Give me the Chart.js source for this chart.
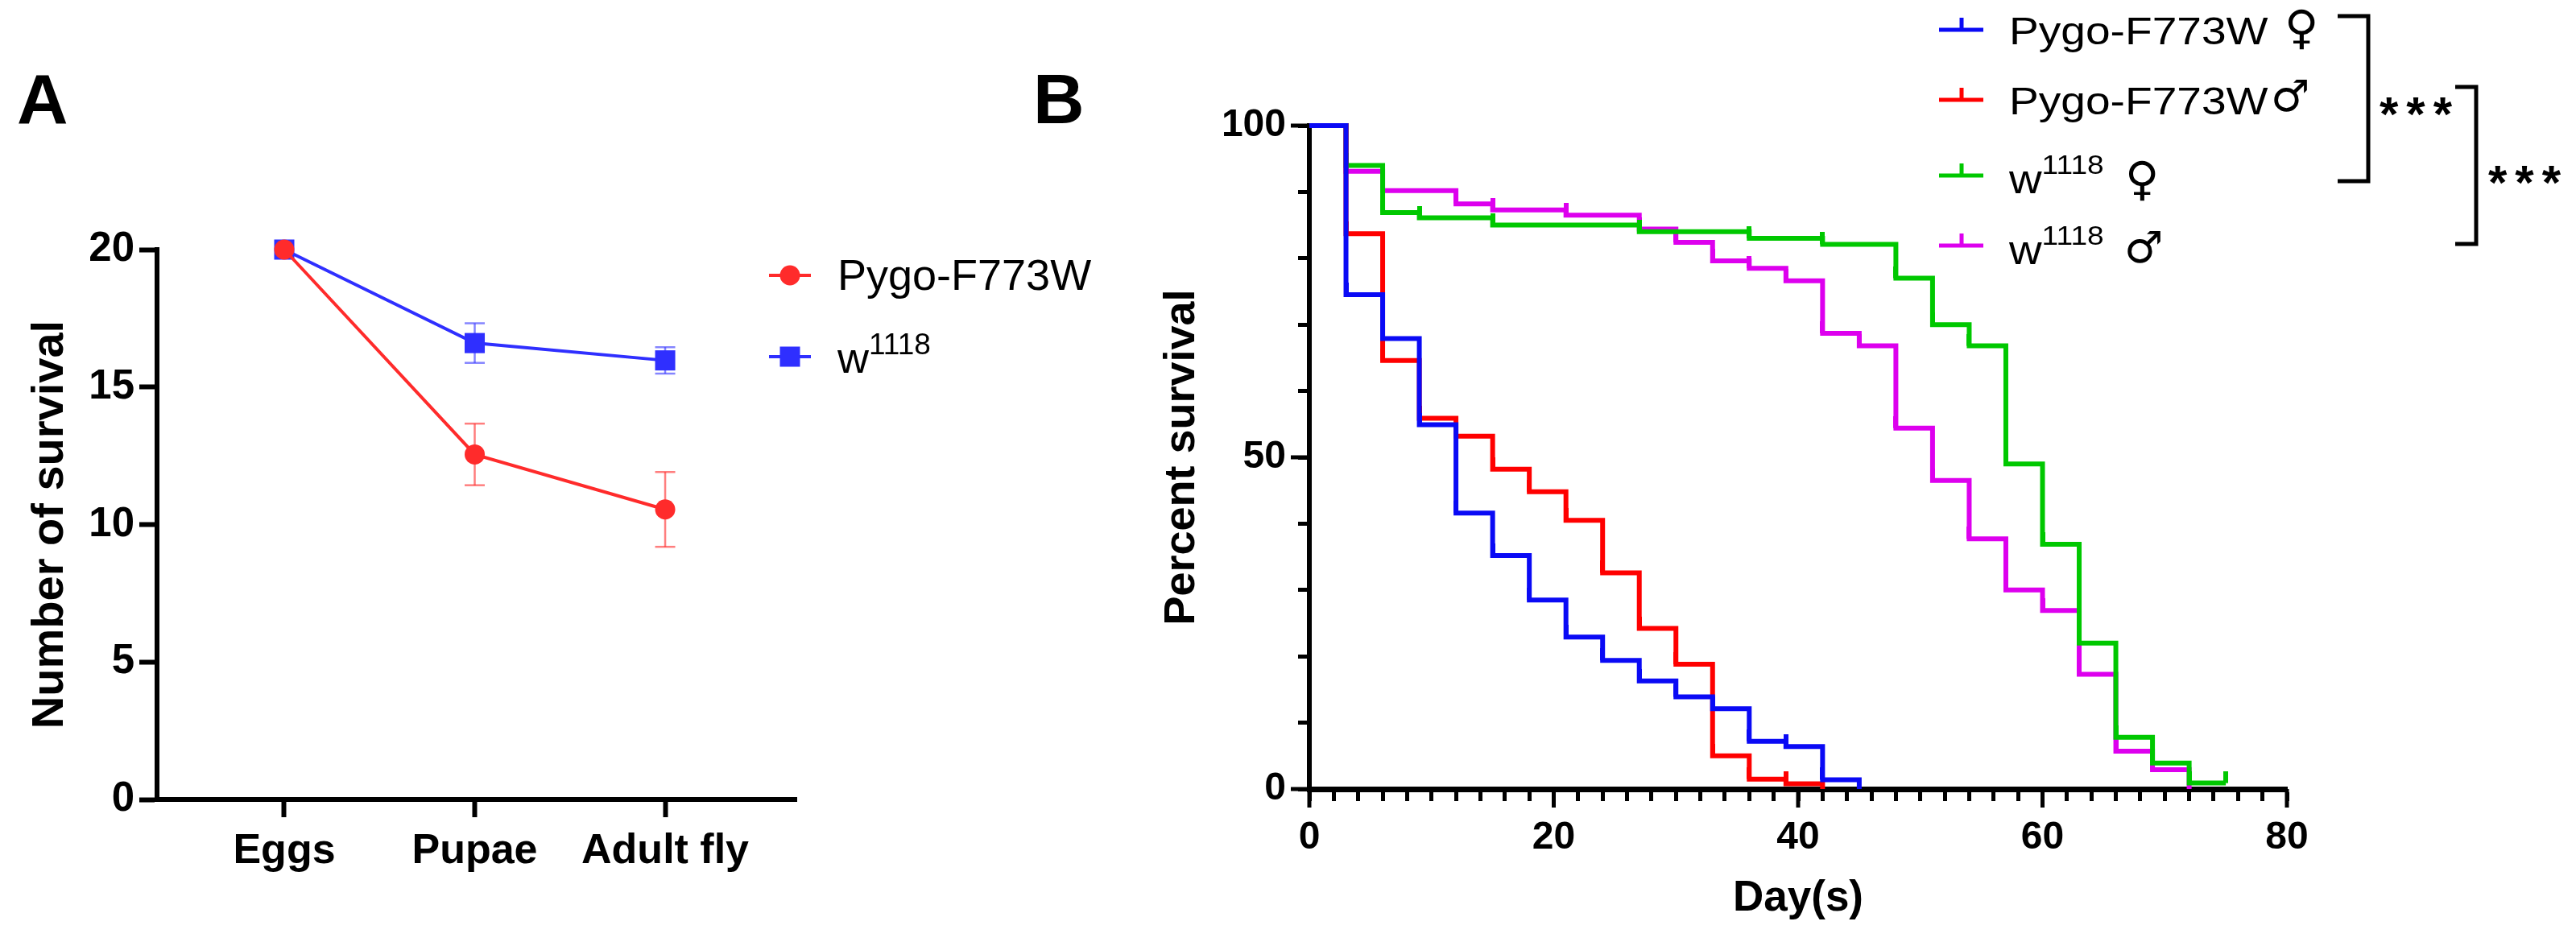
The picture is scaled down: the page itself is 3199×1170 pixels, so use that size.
<!DOCTYPE html>
<html>
<head>
<meta charset="utf-8">
<script src="https://cdn.jsdelivr.net/npm/chart.js@4.4.1/dist/chart.umd.min.js"></script>
<style>
  html, body { margin:0; padding:0; background:#fff; }
  body { width:3199px; height:1170px; position:relative; overflow:hidden; }
  canvas { position:absolute; top:0; }
  #ov { position:absolute; left:0; top:0; }
  .t { font-family:"Liberation Sans", Arial, sans-serif; fill:#000; }
  .sym { font-family:"DejaVu Sans", sans-serif; fill:#000; }
</style>
</head>
<body>
<canvas id="chartA" width="1300" height="1170" style="left:0"></canvas>
<canvas id="chartB" width="1919" height="1170" style="left:1280px"></canvas>
<svg id="ov" width="3199" height="1170" xmlns="http://www.w3.org/2000/svg">
  <!-- panel labels -->
  <text class="t" x="21" y="153" font-size="88" font-weight="bold">A</text>
  <text class="t" x="1283" y="153" font-size="88" font-weight="bold">B</text>

  <!-- legend A -->
  <line x1="955" y1="342" x2="1007" y2="342" stroke="#ff2b2b" stroke-width="4"/>
  <circle cx="981" cy="342" r="12.5" fill="#ff2b2b"/>
  <text class="t" x="1040" y="360" font-size="54">Pygo-F773W</text>
  <line x1="955" y1="443" x2="1007" y2="443" stroke="#2f2fff" stroke-width="4"/>
  <rect x="968.5" y="430.5" width="25" height="25" fill="#2f2fff"/>
  <text class="t" x="1040" y="463" font-size="54">w<tspan font-size="37" dy="-23">1118</tspan></text>

  <!-- legend B -->
  <g stroke-width="5" fill="none">
    <line x1="2408" y1="37" x2="2463" y2="37" stroke="#0a0af5"/>
    <line x1="2436" y1="22" x2="2436" y2="37" stroke="#0a0af5"/>
    <line x1="2408" y1="124" x2="2463" y2="124" stroke="#ff0000"/>
    <line x1="2436" y1="109" x2="2436" y2="124" stroke="#ff0000"/>
    <line x1="2408" y1="218" x2="2463" y2="218" stroke="#00c800"/>
    <line x1="2436" y1="203" x2="2436" y2="218" stroke="#00c800"/>
    <line x1="2408" y1="305" x2="2463" y2="305" stroke="#dd00ee"/>
    <line x1="2436" y1="290" x2="2436" y2="305" stroke="#dd00ee"/>
  </g>
  <text class="t" font-size="49" transform="translate(2495,55) scale(1.125,1)">Pygo-F773W</text>
  <text class="sym" x="2837" y="54" font-size="58">♀</text>
  <text class="t" font-size="49" transform="translate(2495,142) scale(1.125,1)">Pygo-F773W</text>
  <text class="sym" x="2820" y="138" font-size="54">♂</text>
  <text class="t" font-size="50" transform="translate(2495,240) scale(1.125,1)">w<tspan font-size="33" dy="-24">1118</tspan></text>
  <text class="sym" x="2639" y="242" font-size="58">♀</text>
  <text class="t" font-size="50" transform="translate(2495,328) scale(1.125,1)">w<tspan font-size="33" dy="-24">1118</tspan></text>
  <text class="sym" x="2638" y="326" font-size="54">♂</text>

  <!-- significance brackets -->
  <polyline points="2903,20 2941,20 2941,225 2903,225" fill="none" stroke="#000" stroke-width="5"/>
  <polyline points="3049,108 3075,108 3075,303 3049,303" fill="none" stroke="#000" stroke-width="5"/>
  <text class="t" x="2955" y="162" font-size="60" font-weight="bold" letter-spacing="10">***</text>
  <text class="t" x="3090" y="247" font-size="60" font-weight="bold" letter-spacing="10">***</text>
</svg>

<script>
// ---------- Panel A data ----------
const stages = ['Eggs', 'Pupae', 'Adult fly'];
const pygoMean = [20, 12.55, 10.55];
const pygoErr  = [0, 1.12, 1.36];
const w1118Mean = [20, 16.6, 15.97];
const w1118Err  = [0, 0.72, 0.48];
const yTicksA = [0, 5, 10, 15, 20];

// ---------- Panel B data (Kaplan-Meier, % survival) ----------
const pygoFemaleDays = [0, 3, 6, 9, 12, 15, 18, 21, 24, 27, 30, 33, 36, 39, 42, 45];
const pygoFemale     = [100, 74.5, 67.9, 54.9, 41.6, 35.2, 28.5, 22.9, 19.4, 16.3, 13.9, 12.1, 7.2, 6.4, 1.4, 0];
const pygoMaleDays   = [0, 3, 6, 9, 12, 15, 18, 21, 24, 27, 30, 33, 36, 39, 42];
const pygoMale       = [100, 83.7, 64.6, 55.9, 53.2, 48.2, 44.8, 40.5, 32.6, 24.2, 18.8, 5.0, 1.5, 0.8, 0];
const wFemaleDays    = [0, 3, 6, 9, 15, 27, 36, 42, 48, 51, 54, 57, 60, 63, 66, 69, 72, 75];
const wFemale        = [100, 94.0, 86.9, 86.1, 85.0, 84.0, 83.0, 82.1, 77.0, 70.0, 66.8, 49.0, 36.9, 22.0, 7.8, 3.9, 0.9, 0.9];
const wMaleDays      = [0, 3, 6, 12, 15, 21, 27, 30, 33, 36, 39, 42, 45, 48, 51, 54, 57, 60, 63, 66, 69, 72];
const wMale          = [100, 93.1, 90.2, 88.2, 87.3, 86.5, 84.4, 82.4, 79.6, 78.5, 76.6, 68.7, 66.8, 54.4, 46.5, 37.7, 30.0, 26.9, 17.3, 5.7, 2.9, 0];
const xMajorB = [0, 20, 40, 60, 80];
const yMajorB = [0, 50, 100];

const FONT = '"Liberation Sans", Arial, sans-serif';

// ---------- Panel A ----------
function errData(mean, err) {
  const out = [];
  mean.forEach((m, i) => {
    if (err[i] > 0) {
      out.push({x: i, y: m - err[i]}, {x: i, y: m + err[i]}, {x: i + 0.5, y: null});
    }
  });
  return out;
}
const pts = (arr) => arr.map((v, i) => ({x: i, y: v}));

new Chart(document.getElementById('chartA'), {
  type: 'line',
  data: {
    datasets: [
      { label: 'Pygo-F773W', data: pts(pygoMean), borderColor: '#ff2b2b', backgroundColor: '#ff2b2b',
        borderWidth: 4, pointStyle: 'circle', pointRadius: 12.5, pointBorderWidth: 0, clip: false },
      { label: 'w1118', data: pts(w1118Mean), borderColor: '#2f2fff', backgroundColor: '#2f2fff',
        borderWidth: 4, pointStyle: 'rect', pointRadius: 17.7, pointBorderWidth: 0, clip: false },
      { label: 'err1', data: errData(pygoMean, pygoErr), borderColor: 'rgba(255,40,40,0.6)',
        borderWidth: 2.5, pointStyle: 'line', pointRadius: 12.5, pointBorderWidth: 2.5,
        pointBorderColor: 'rgba(255,40,40,0.6)', spanGaps: false, clip: false },
      { label: 'err2', data: errData(w1118Mean, w1118Err), borderColor: 'rgba(50,50,255,0.6)',
        borderWidth: 2.5, pointStyle: 'line', pointRadius: 12.5, pointBorderWidth: 2.5,
        pointBorderColor: 'rgba(50,50,255,0.6)', spanGaps: false, clip: false }
    ]
  },
  options: {
    responsive: false, animation: false, devicePixelRatio: 1,
    layout: { padding: { top: 310, left: 0, right: 311, bottom: 0 } },
    plugins: { legend: { display: false }, tooltip: { enabled: false } },
    scales: {
      x: {
        type: 'linear', min: -0.668, max: 2.689,
        afterBuildTicks: (s) => { s.ticks = stages.map((_, i) => ({ value: i })); },
        afterFit: (s) => { s.height = 177; },
        ticks: { autoSkip: false, maxRotation: 0, minRotation: 0, padding: 11, color: '#000',
          font: { family: FONT, size: 52, weight: 'bold' },
          callback: (v) => stages[v] },
        grid: { drawOnChartArea: false, drawTicks: true, tickLength: 22, tickWidth: 6, tickColor: '#000' },
        border: { display: true, color: '#000', width: 6 }
      },
      y: {
        type: 'linear', min: 0, max: 20,
        afterBuildTicks: (s) => { s.ticks = yTicksA.map(v => ({ value: v })); },
        afterFit: (s) => { s.width = 195; },
        ticks: { padding: 6, color: '#000', font: { family: FONT, size: 51, weight: 'bold' } },
        grid: { drawOnChartArea: false, drawTicks: true, tickLength: 22, tickWidth: 6, tickColor: '#000' },
        border: { display: true, color: '#000', width: 6 },
        title: { display: true, text: 'Number of survival', color: '#000', padding: { top: 29, bottom: 0 },
          font: { family: FONT, size: 56, weight: 'bold' } }
      }
    }
  }
});

// ---------- Panel B ----------
function censorMark(color) {
  const c = document.createElement('canvas');
  c.width = 6; c.height = 30;
  const g = c.getContext('2d');
  g.fillStyle = color;
  g.fillRect(0, 0, 6, 15);
  return c;
}
function kmData(days, vals) { return days.map((d, i) => ({ x: d, y: vals[i] })); }
function markRadii(vals) { return vals.map((v, i) => (i === 0 || v === 0) ? 0 : 3); }
function kmSet(label, days, vals, color) {
  return { label, data: kmData(days, vals), stepped: 'before', borderColor: color, backgroundColor: color,
    borderWidth: 6, pointStyle: censorMark(color), pointRadius: markRadii(vals), clip: false };
}

const majorTicks = {
  id: 'majorTicks',
  beforeDatasetsDraw(chart) {
    const { ctx, scales: { x, y }, chartArea } = chart;
    ctx.save();
    ctx.strokeStyle = '#000'; ctx.lineWidth = 5;
    xMajorB.forEach(v => { const p = x.getPixelForValue(v); ctx.beginPath(); ctx.moveTo(p, chartArea.bottom); ctx.lineTo(p, chartArea.bottom + 23); ctx.stroke(); });
    yMajorB.forEach(v => { const p = y.getPixelForValue(v); ctx.beginPath(); ctx.moveTo(chartArea.left, p); ctx.lineTo(chartArea.left - 23, p); ctx.stroke(); });
    ctx.restore();
  }
};

new Chart(document.getElementById('chartB'), {
  type: 'line',
  data: {
    datasets: [
      kmSet('Pygo-F773W ♀', pygoFemaleDays, pygoFemale, '#0a0af5'),
      kmSet('Pygo-F773W ♂', pygoMaleDays, pygoMale, '#ff0000'),
      kmSet('w1118 ♀', wFemaleDays, wFemale, '#00c800'),
      kmSet('w1118 ♂', wMaleDays, wMale, '#dd00ee')
    ]
  },
  options: {
    responsive: false, animation: false, devicePixelRatio: 1,
    layout: { padding: { top: 156, left: 0, right: 359, bottom: 0 } },
    plugins: { legend: { display: false }, tooltip: { enabled: false } },
    scales: {
      x: {
        type: 'linear', min: 0, max: 80,
        afterFit: (s) => { s.height = 190; },
        ticks: { stepSize: 2, autoSkip: false, maxRotation: 0, minRotation: 0, padding: 17, color: '#000',
          font: { family: FONT, size: 48, weight: 'bold' },
          callback: (v) => (xMajorB.includes(v) ? String(v) : '') },
        grid: { drawOnChartArea: false, drawTicks: true, tickLength: 15, tickWidth: 5, tickColor: '#000' },
        border: { display: true, color: '#000', width: 7 },
        title: { display: true, text: 'Day(s)', color: '#000', padding: { top: 0, bottom: 22 },
          font: { family: FONT, size: 53, weight: 'bold' } }
      },
      y: {
        type: 'linear', min: 0, max: 100,
        afterFit: (s) => { s.width = 346; },
        ticks: { stepSize: 5, padding: 15, color: '#000', font: { family: FONT, size: 48, weight: 'bold' },
          callback: (v) => (yMajorB.includes(v) ? String(v) : '') },
        grid: { drawOnChartArea: false, drawTicks: true, tickLength: 14, tickWidth: 5, tickColor: '#000' },
        border: { display: true, color: '#000', width: 6 },
        title: { display: true, text: 'Percent survival', color: '#000', padding: { top: 156, bottom: 0 },
          font: { family: FONT, size: 54, weight: 'bold' } }
      }
    }
  },
  plugins: [majorTicks]
});
</script>
</body>
</html>
